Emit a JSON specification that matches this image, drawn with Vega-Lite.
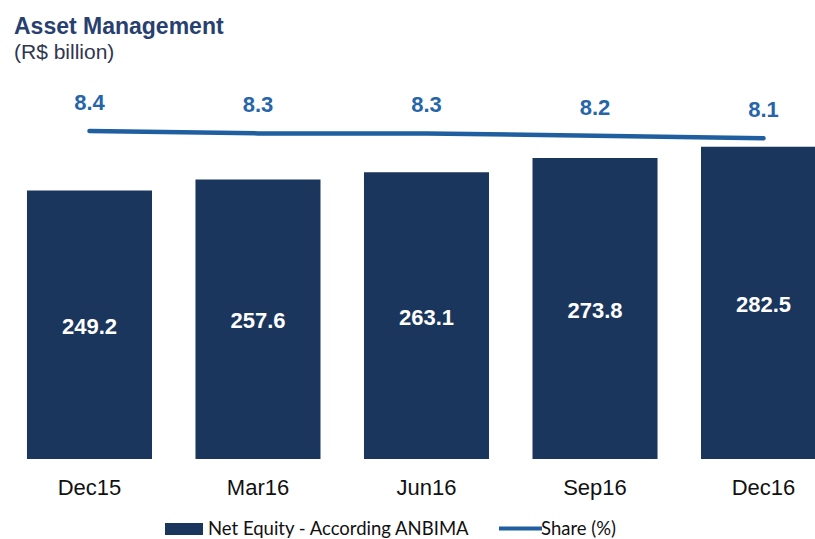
{
  "$schema": "https://vega.github.io/schema/vega-lite/v6.json",
  "width": 815,
  "height": 399,
  "autosize": {"type": "none"},
  "padding": {"left": 0, "top": 60, "right": 0, "bottom": 80},
  "background": "white",
  "config": {"view": {"stroke": null}},
  "title": {
    "text": "Asset  Management",
    "subtitle": "(R$ billion)",
    "anchor": "start",
    "frame": "group",
    "dx": 14,
    "offset": -3,
    "font": "Liberation Sans",
    "fontSize": 23,
    "fontWeight": "bold",
    "color": "#27406F",
    "subtitleFont": "Liberation Sans",
    "subtitleFontSize": 21,
    "subtitleColor": "#30374F",
    "subtitlePadding": 3
  },
  "data": {
    "values": [
      {"period": "Dec15", "equity": 249.2, "share": 8.4},
      {"period": "Mar16", "equity": 257.6, "share": 8.3},
      {"period": "Jun16", "equity": 263.1, "share": 8.3},
      {"period": "Sep16", "equity": 273.8, "share": 8.2},
      {"period": "Dec16", "equity": 282.5, "share": 8.1}
    ]
  },
  "encoding": {
    "x": {
      "field": "period",
      "type": "nominal",
      "sort": null,
      "scale": {"range": [0, 853], "paddingInner": 0.258, "paddingOuter": 0.16},
      "axis": {
        "title": null,
        "labelAngle": 0,
        "domain": false,
        "ticks": false,
        "labelFont": "Liberation Sans",
        "labelFontSize": 22,
        "labelColor": "#111111",
        "labelPadding": 18
      }
    }
  },
  "layer": [
    {
      "mark": {"type": "bar", "clip": true},
      "encoding": {
        "y": {
          "field": "equity",
          "type": "quantitative",
          "scale": {"domain": [45.6, 348.2], "zero": false, "nice": false},
          "axis": null
        },
        "fill": {
          "datum": "Net Equity - According ANBIMA",
          "scale": {"range": ["#1B365D"]},
          "legend": {
            "orient": "none",
            "legendX": 165,
            "legendY": 450,
            "title": null,
            "symbolType": "M-1,-0.316H1V0.316H-1Z",
            "symbolSize": 1444,
            "symbolStrokeWidth": 0,
            "labelFont": "Lato",
            "labelFontSize": 18.5,
            "labelLimit": 400,
            "labelColor": "#111111",
            "labelOffset": 5
          }
        }
      }
    },
    {
      "mark": {"type": "text", "font": "Liberation Sans", "fontSize": 22, "fontWeight": "bold", "color": "white", "baseline": "middle", "dy": 2},
      "encoding": {
        "y": {
          "field": "equity",
          "type": "quantitative",
          "scale": {"domain": [45.6, 650.8], "zero": false, "nice": false},
          "axis": null
        },
        "text": {"field": "equity", "type": "quantitative", "format": ".1f"}
      }
    },
    {
      "mark": {"type": "line", "strokeWidth": 4.5, "strokeCap": "round"},
      "encoding": {
        "y": {
          "field": "share",
          "type": "quantitative",
          "scale": {"domain": [-5.1, 11.32], "zero": false, "nice": false},
          "axis": null
        },
        "stroke": {
          "datum": "Share (%)",
          "scale": {"range": ["#1F5F9F"]},
          "legend": {
            "orient": "none",
            "legendX": 497,
            "legendY": 445,
            "title": null,
            "symbolType": "stroke",
            "symbolSize": 1849,
            "symbolStrokeWidth": 4,
            "labelFont": "Lato",
            "labelFontSize": 18.5,
            "labelLimit": 400,
            "labelColor": "#111111",
            "labelOffset": -3
          }
        }
      }
    },
    {
      "mark": {"type": "text", "font": "Liberation Sans", "fontSize": 22, "fontWeight": "bold", "color": "#2565A8", "baseline": "middle", "dy": -28},
      "encoding": {
        "y": {
          "field": "share",
          "type": "quantitative",
          "scale": {"domain": [-5.1, 11.32], "zero": false, "nice": false},
          "axis": null
        },
        "text": {"field": "share", "type": "quantitative", "format": ".1f"}
      }
    }
  ],
  "resolve": {"scale": {"y": "independent"}}
}
